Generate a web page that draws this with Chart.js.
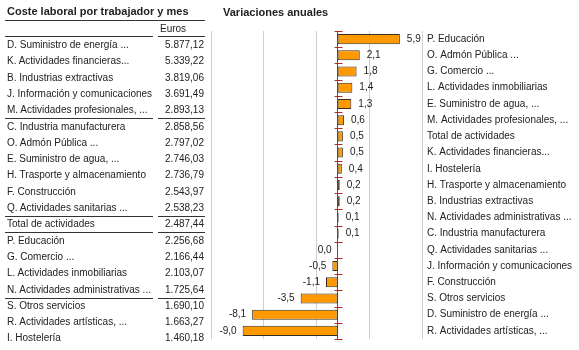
<!DOCTYPE html>
<html><head><meta charset="utf-8">
<script src="https://cdn.jsdelivr.net/npm/chart.js@4.4.1/dist/chart.umd.min.js"></script>
<style>
html,body{margin:0;padding:0;background:#fff;}
#wrap{position:relative;width:579px;height:350px;overflow:hidden;font-family:"Liberation Sans",Arial,sans-serif;color:#222;}
canvas{position:absolute;left:0;top:0;}
.t{position:absolute;white-space:nowrap;font-size:10px;line-height:12px;}
.b{position:absolute;white-space:nowrap;font-weight:bold;font-size:11px;line-height:12px;color:#222;}
.hl{position:absolute;height:0;border-top:1.5px solid #333;}
</style></head><body><div id="wrap"><canvas id="c" width="579" height="350"></canvas></div>
<script>
// ---- Data ----
const tableTitle = "Coste laboral por trabajador y mes";
const tableUnit = "Euros";
const tableLabels = [
  "D. Suministro de energía ...", "K. Actividades financieras...", "B. Industrias extractivas",
  "J. Información y comunicaciones", "M. Actividades profesionales, ...", "C. Industria manufacturera",
  "O. Admón Pública ...", "E. Suministro de agua, ...", "H. Trasporte y almacenamiento",
  "F. Construcción", "Q. Actividades sanitarias ...", "Total de actividades",
  "P. Educación", "G. Comercio ...", "L. Actividades inmobiliarias",
  "N. Actividades administrativas ...", "S. Otros servicios", "R. Actividades artísticas, ...",
  "I. Hostelería"
];
const tableValues = [5877.12, 5339.22, 3819.06, 3691.49, 2893.13, 2858.56, 2797.02, 2746.03, 2736.79,
  2543.97, 2538.23, 2487.44, 2256.68, 2166.44, 2103.07, 1725.64, 1690.10, 1663.27, 1460.18];
const tableBreaks = [4, 10, 11, 15];

const chartTitle = "Variaciones anuales";
const categories = [
  "P. Educación", "O. Admón Pública ...", "G. Comercio ...", "L. Actividades inmobiliarias",
  "E. Suministro de agua, ...", "M. Actividades profesionales, ...", "Total de actividades",
  "K. Actividades financieras...", "I. Hostelería", "H. Trasporte y almacenamiento",
  "B. Industrias extractivas", "N. Actividades administrativas ...", "C. Industria manufacturera",
  "Q. Actividades sanitarias ...", "J. Información y comunicaciones", "F. Construcción",
  "S. Otros servicios", "D. Suministro de energía ...", "R. Actividades artísticas, ..."
];
const variations = [5.9, 2.1, 1.8, 1.4, 1.3, 0.6, 0.5, 0.5, 0.4, 0.2, 0.2, 0.1, 0.1, 0.0, -0.5, -1.1, -3.5, -8.1, -9.0];
const xTicks = [-12, -7, -2, 3, 8];

// ---- Helpers ----
function fmtEuro(v){
  const parts = v.toFixed(2).split('.');
  const int = parts[0].replace(/\B(?=(\d{3})+(?!\d))/g, '.');
  return int + ',' + parts[1];
}
function fmt1(v){ return v.toFixed(1).replace('.', ','); }

// ---- Left table (HTML text) ----
const wrap = document.getElementById('wrap');
function addDiv(cls, txt, style){
  const d = document.createElement('div'); d.className = cls;
  if (txt !== null) d.textContent = txt;
  Object.assign(d.style, style); wrap.appendChild(d); return d;
}
addDiv('b', tableTitle, {left:'7px', top:'5px'});
addDiv('hl', null, {left:'5px', top:'20px', width:'200px'});
addDiv('t', tableUnit, {left:'160px', top:'23px'});
addDiv('hl', null, {left:'5px', top:'36px', width:'148px'});
addDiv('hl', null, {left:'158px', top:'36px', width:'47px'});
tableLabels.forEach((lab, i) => {
  const yc = 45 + i * 16.3;
  addDiv('t', lab, {left:'7px', top:(yc - 6) + 'px'});
  addDiv('t', fmtEuro(tableValues[i]), {right:(579 - 204) + 'px', top:(yc - 6) + 'px', textAlign:'right'});
  if (tableBreaks.includes(i)) {
    addDiv('hl', null, {left:'5px', top:(yc + 8) + 'px', width:'148px'});
    addDiv('hl', null, {left:'158px', top:(yc + 8) + 'px', width:'47px'});
  }
});
addDiv('b', chartTitle, {left:'223px', top:'6px'});

// ---- Chart ----
const FONT = "'Liberation Sans', Arial, sans-serif";
const valueLabels = {
  id: 'valueLabels',
  afterDatasetsDraw(chart){
    const ctx = chart.ctx;
    const meta = chart.getDatasetMeta(0);
    const xs = chart.scales.x, ys = chart.scales.y;
    // cross tick marks on zero axis at category boundaries
    const x0 = Math.round(xs.getPixelForValue(0)) + 0.5;
    ctx.save();
    ctx.strokeStyle = '#b02a2a'; ctx.lineWidth = 1;
    for (let i = 0; i <= categories.length; i++) {
      const y = Math.round(ys.getPixelForValue(i - 0.5)) + 0.5;
      ctx.beginPath(); ctx.moveTo(x0 - 4, y); ctx.lineTo(x0 + 4, y); ctx.stroke();
    }
    ctx.font = '10px ' + FONT; ctx.fillStyle = '#222'; ctx.textBaseline = 'middle';
    meta.data.forEach((bar, i) => {
      const v = variations[i];
      if (v > 0) { ctx.textAlign = 'left'; ctx.fillText(fmt1(v), bar.x + 7, bar.y); }
      else { ctx.textAlign = 'right'; ctx.fillText(fmt1(v), bar.x - 6, bar.y); }
    });
    ctx.restore();
  }
};

new Chart(document.getElementById('c'), {
  type: 'bar',
  data: {
    labels: categories,
    datasets: [{
      data: variations,
      backgroundColor: '#ff9900',
      borderColor: '#3a2e22',
      borderWidth: 1,
      borderSkipped: false,
      barPercentage: 0.62,
      categoryPercentage: 1
    }]
  },
  options: {
    indexAxis: 'y',
    responsive: false,
    animation: false,
    events: [],
    layout: { padding: { left: 211, top: 31, bottom: 8, right: 0 } },
    plugins: { legend: { display: false }, tooltip: { enabled: false }, title: { display: false } },
    scales: {
      x: {
        type: 'linear', min: -12, max: 8,
        afterBuildTicks: s => { s.ticks = xTicks.map(v => ({ value: v })); },
        afterFit: s => { s.height = 0; },
        ticks: { display: false },
        grid: { color: '#cfcfcf', lineWidth: 1, drawTicks: false },
        border: { display: false }
      },
      y: {
        type: 'category', position: { x: 0 }, offset: true, z: 1,
        ticks: { display: false },
        grid: { display: false },
        border: { display: true, color: '#b02a2a', width: 1 }
      },
      y2: {
        type: 'category', position: 'right', offset: true,
        labels: categories,
        afterFit: s => { s.width = 157; },
        ticks: { color: '#222', font: { family: FONT, size: 10 }, padding: 5, autoSkip: false },
        grid: { display: false, drawTicks: false },
        border: { display: false }
      }
    }
  },
  plugins: [valueLabels]
});
</script>
</body></html>
